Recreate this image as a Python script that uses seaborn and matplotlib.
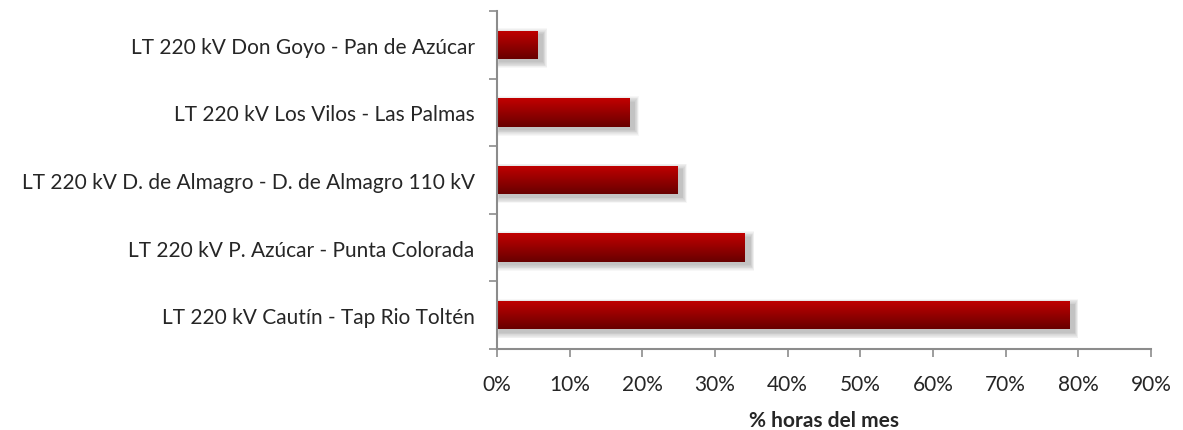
import numpy as np
import pandas as pd
import matplotlib
matplotlib.use("Agg")
import matplotlib.pyplot as plt
import seaborn as sns
from matplotlib.colors import LinearSegmentedColormap

# ==========================================================
# DATA
# ==========================================================

lines = [
    "LT 220 kV Don Goyo - Pan de Azúcar",
    "LT 220 kV Los Vilos - Las Palmas",
    "LT 220 kV D. de Almagro - D. de Almagro 110 kV",
    "LT 220 kV P. Azúcar - Punta Colorada",
    "LT 220 kV Cautín - Tap Rio Toltén",
]

hours_pct = [5.6, 18.2, 24.8, 34.1, 78.7]

x_ticks = [0, 10, 20, 30, 40, 50, 60, 70, 80, 90]

df = pd.DataFrame({"Linea": lines, "Pct": hours_pct})

# ==========================================================
# PLOT
# ==========================================================

sns.set_style("white")
plt.rcParams["font.family"] = ["Lato", "DejaVu Sans"]

fig = plt.figure(figsize=(11.83, 4.31), dpi=100)
ax = fig.add_axes([0.420, 0.188, 0.553, 0.784])

sns.barplot(
    data=df,
    x="Pct",
    y="Linea",
    color="#a00000",
    width=0.42,
    ax=ax,
)

grad = LinearSegmentedColormap.from_list("rojo", ["#c20000", "#680000"])
gradient = np.linspace(0, 1, 256).reshape(-1, 1)

for bar in list(ax.patches):
    x0, y0 = bar.get_x(), bar.get_y()
    w, h = bar.get_width(), bar.get_height()
    bar.set_visible(False)

    # soft shadow (below-right)
    for k in range(8):
        grow = k * 0.012
        sh = plt.Rectangle(
            (x0 + 0.3 - grow * 6, y0 + 0.05 - grow),
            w + 0.5 + grow * 12, h + 2 * grow,
            facecolor="black",
            alpha=0.03,
            edgecolor="none",
            zorder=1,
        )
        ax.add_patch(sh)

    img = ax.imshow(
        gradient,
        cmap=grad,
        aspect="auto",
        extent=(x0, x0 + w, y0 + h, y0),
        origin="upper",
        zorder=2,
    )
    clip = plt.Rectangle((x0, y0), w, h, transform=ax.transData)
    img.set_clip_path(clip)

ax.set_xlim(0, 90)
ax.set_ylim(4.5, -0.5)
ax.set_aspect("auto")

ax.set_xticks(x_ticks)
ax.set_xticklabels([f"{t}%" for t in x_ticks], fontsize=15)

ax.set_yticks([i + 0.5 for i in range(-1, len(lines))], minor=False)
ax.set_yticklabels([])
ax.set_yticks(range(len(lines)), minor=True)
ax.set_yticklabels(lines, minor=True, fontsize=15)
ax.tick_params(axis="y", which="minor", length=0, pad=16)
ax.tick_params(axis="y", which="major", length=6, width=1.2, color="#8c8c8c", direction="out", left=True)
ax.tick_params(axis="x", length=6, width=1.2, color="#8c8c8c", direction="out", bottom=True, pad=12)

for side in ["top", "right"]:
    ax.spines[side].set_visible(False)
for side in ["left", "bottom"]:
    ax.spines[side].set_color("#8c8c8c")
    ax.spines[side].set_linewidth(1.5)

ax.set_ylabel("")
ax.set_xlabel("% horas del mes", fontsize=15, fontweight="bold")
ax.xaxis.set_label_coords(0.5, -0.18)

fig.savefig("out.png", dpi=100)
